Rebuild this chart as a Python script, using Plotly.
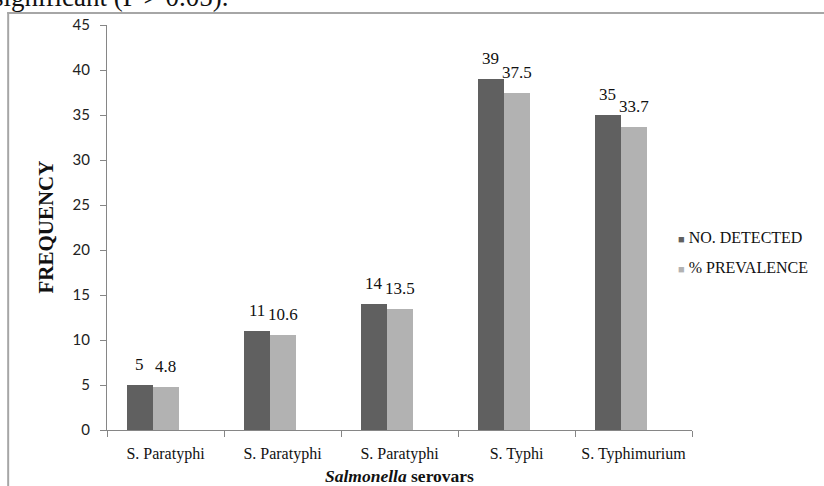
import plotly.graph_objects as go

categories = ["S. Paratyphi", "S. Paratyphi ", "S. Paratyphi  ", "S. Typhi", "S. Typhimurium"]
tick_labels = ["S. Paratyphi", "S. Paratyphi", "S. Paratyphi", "S. Typhi", "S. Typhimurium"]
no_detected = [5, 11, 14, 39, 35]
prevalence = [4.8, 10.6, 13.5, 37.5, 33.7]
series_names = ["NO. DETECTED", "% PREVALENCE"]
colors = ["#606060", "#b2b2b2"]

W, H = 824, 486
L, R, T, B = 107, 693, 25, 430
pw, ph = R - L, B - T

def px_x(x):
    return (x - L) / pw

def px_y(y):
    return (B - y) / ph

serif = "Liberation Serif"
fig = go.Figure()

bw = 26 / 117
offsets = [-39 / 117, -13 / 117]
for vals, name, col, off in zip([no_detected, prevalence], series_names, colors, offsets):
    fig.add_trace(go.Bar(
        x=categories, y=vals, name=name, marker=dict(color=col, line=dict(width=0)),
        width=bw, offset=off, showlegend=False,
    ))
    # legend entry: coloured square glyph + label
    fig.add_trace(go.Scatter(
        x=[None], y=[None], mode="markers", legendgroup=name,
        name=f'<span style="color:{col};font-size:11px">\u25a0</span> {name}',
        marker=dict(symbol="square", size=0, color="rgba(0,0,0,0)",
                    line=dict(width=0, color="rgba(0,0,0,0)")),
    ))

annotations = []
for i, (a, b) in enumerate(zip(no_detected, prevalence)):
    for v, off in ((a, offsets[0]), (b, offsets[1])):
        annotations.append(dict(
            x=i + off + bw / 2, y=v, xref="x", yref="y", text=str(v),
            showarrow=False, yanchor="bottom", xanchor="center", yshift=9,
            font=dict(family=serif, size=17, color="#111"),
        ))

annotations.append(dict(
    x=px_x(45.5), y=px_y(227), xref="paper", yref="paper", text="<b>FREQUENCY</b>",
    textangle=-90, showarrow=False, xanchor="center", yanchor="middle",
    font=dict(family=serif, size=21, color="#111"),
))
annotations.append(dict(
    x=px_x(400), y=px_y(476), xref="paper", yref="paper",
    text="<b><i>Salmonella</i> serovars</b>", showarrow=False,
    xanchor="center", yanchor="middle",
    font=dict(family=serif, size=17.5, color="#111"),
))
annotations.append(dict(
    x=px_x(-9), y=px_y(14), xref="paper", yref="paper", xanchor="left", yanchor="bottom",
    text="significant (P &gt; 0.05).", showarrow=False,
    font=dict(family=serif, size=27, color="#111"),
))

shapes = [
    dict(type="line", xref="paper", yref="paper", x0=px_x(8), x1=px_x(8), y0=px_y(12), y1=px_y(490),
         line=dict(color="#a6a6a6", width=2)),
    dict(type="line", xref="paper", yref="paper", x0=px_x(7), x1=px_x(830), y0=px_y(13), y1=px_y(13),
         line=dict(color="#a6a6a6", width=2)),
]

fig.update_layout(
    width=W, height=H,
    margin=dict(l=L, r=W - R, t=T, b=H - B, pad=0),
    paper_bgcolor="white", plot_bgcolor="white",
    bargap=0, barmode="overlay",
    annotations=annotations, shapes=shapes,
    legend=dict(x=px_x(638), y=px_y(252), xanchor="left", yanchor="middle",
                font=dict(family=serif, size=16, color="#111"),
                tracegroupgap=7, itemwidth=30, bgcolor="rgba(0,0,0,0)"),
    xaxis=dict(
        type="category", tickvals=categories, ticktext=tick_labels,
        tickson="boundaries", ticks="outside", ticklen=6, tickcolor="#868686",
        showline=True, linecolor="#868686", linewidth=1, showgrid=False,
        ticklabelstandoff=9,
        tickfont=dict(family=serif, size=16, color="#111"), range=[-0.5, 4.5],
    ),
    yaxis=dict(
        range=[0, 45], dtick=5, ticks="outside", ticklen=6, tickcolor="#868686",
        showline=True, linecolor="#868686", linewidth=1, showgrid=False, zeroline=False,
        ticklabelstandoff=7,
        tickfont=dict(family="Lato", size=15, color="#222"),
    ),
)

fig.write_html("out.html", config={"displayModeBar": False},
               post_script="document.body.style.margin='0';")
